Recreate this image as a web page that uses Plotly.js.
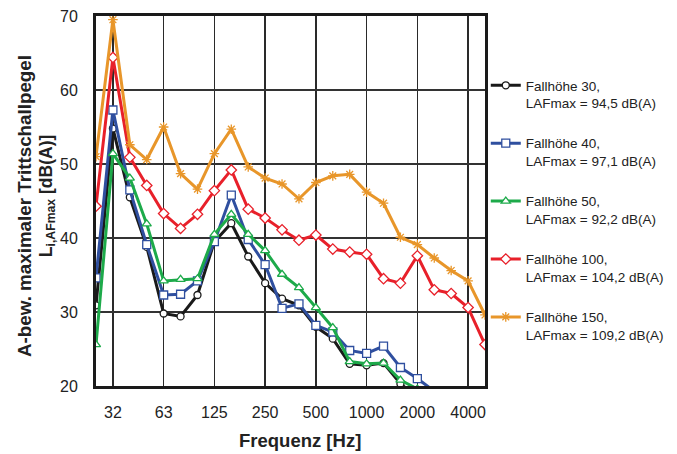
<!DOCTYPE html>
<html>
<head>
<meta charset="utf-8">
<script src="https://cdn.plot.ly/plotly-3.0.1.min.js"></script>
<style>
  html, body { margin: 0; padding: 0; background: #fff; }
  #chart { width: 677px; height: 454px; }
</style>
</head>
<body>
<div id="chart"></div>
<script>
// Third-octave band centre frequencies [Hz]
const bands = ['25','31.5','40','50','63','80','100','125','160','200','250','315',
               '400','500','630','800','1000','1250','1600','2000','2500','3150','4000','5000'];

// Octave tick positions and their labels
const tickBands = ['31.5','63','125','250','500','1000','2000','4000'];
const tickLabels = ['32','63','125','250','500','1000','2000','4000'];

// Maximum A-weighted impact sound level L_i,AFmax [dB(A)] per drop height
const drop30  = [30.9,54.8,45.5,38.8,29.8,29.4,32.3,39.5,42.0,37.5,33.9,31.8,30.9,28.0,26.4,23.0,22.8,23.1,20.3,18.5];
const drop40  = [34.6,57.3,46.5,39.1,32.3,32.4,34.2,39.5,45.8,39.8,36.4,30.5,31.1,28.2,27.3,24.8,24.4,25.4,22.5,21.0,19.3];
const drop50  = [25.6,51.4,48.1,41.9,34.2,34.4,34.5,40.5,43.2,40.5,38.3,35.1,33.3,30.6,27.9,23.3,23.0,23.1,20.8,19.6];
const drop100 = [44.3,64.4,50.9,47.1,43.3,41.3,43.2,46.4,49.2,43.9,42.7,41.1,39.7,40.4,38.5,38.1,37.8,34.5,33.9,37.6,33.0,32.5,30.6,25.6];
const drop150 = [51.0,69.5,52.6,50.6,55.0,48.7,46.6,51.4,54.7,49.6,48.1,47.3,45.3,47.5,48.4,48.6,46.2,44.7,40.1,39.1,37.3,35.6,34.2,29.6];

const seriesNames = [
  'Fallhöhe 30,<br>LAFmax = 94,5 dB(A)',
  'Fallhöhe 40,<br>LAFmax = 97,1 dB(A)',
  'Fallhöhe 50,<br>LAFmax = 92,2 dB(A)',
  'Fallhöhe 100,<br>LAFmax = 104,2 dB(A)',
  'Fallhöhe 150,<br>LAFmax = 109,2 dB(A)'
];

function series(values, name, color, symbol, size, fill, group) {
  return {
    type: 'scatter',
    mode: 'lines+markers',
    x: bands.slice(0, values.length),
    y: values,
    name: name,
    legendgroup: group,
    line: { color: color, width: 3 },
    marker: { symbol: symbol, size: size, color: fill, line: { color: color, width: 1.3 } },
    cliponaxis: true
  };
}

const traces = [
  series(drop30,  seriesNames[0], '#1a1a1a', 'circle',        7, '#ffffff', 'g1'),
  series(drop40,  seriesNames[1], '#2f4f9f', 'square',        8, '#ffffff', 'g2'),
  series(drop50,  seriesNames[2], '#1daa4a', 'triangle-up',   8, '#ffffff', 'g3'),
  series(drop100, seriesNames[3], '#e8202a', 'diamond',       8, '#ffffff', 'g4'),
  series(drop150, seriesNames[4], '#e8962a', 'asterisk-open', 8, '#e8962a', 'g5')
];

const font = { family: 'Arial, "Liberation Sans", sans-serif', color: '#222' };

const layout = {
  width: 677,
  height: 454,
  margin: { l: 96, r: 192, t: 16, b: 68, autoexpand: false },
  paper_bgcolor: '#fff',
  plot_bgcolor: '#fff',
  font: Object.assign({ size: 16 }, font),
  showlegend: true,
  legend: {
    x: 1.002, xanchor: 'left',
    y: 0.854, yanchor: 'top',
    traceorder: 'grouped',
    tracegroupgap: 19.8,
    valign: 'top',
    font: Object.assign({ size: 13.5 }, font),
    itemwidth: 30,
    bgcolor: 'rgba(0,0,0,0)'
  },
  xaxis: {
    type: 'category',
    categoryorder: 'array',
    categoryarray: bands,
    range: [0, bands.length - 1],
    tickmode: 'array',
    tickvals: tickBands,
    ticktext: tickLabels,
    ticks: '',
    ticklabelstandoff: 10,
    tickfont: Object.assign({ size: 16 }, font),
    showgrid: true,
    gridcolor: '#2a2a2a',
    gridwidth: 1.4,
    showline: true,
    linecolor: '#1a1a1a',
    linewidth: 3,
    mirror: true,
    zeroline: false,
    fixedrange: true
  },
  yaxis: {
    range: [20, 70],
    tickvals: [20, 30, 40, 50, 60, 70],
    ticks: '',
    ticklabelstandoff: 12,
    tickfont: Object.assign({ size: 16 }, font),
    showgrid: true,
    gridcolor: '#333',
    gridwidth: 1.4,
    showline: true,
    linecolor: '#1a1a1a',
    linewidth: 3,
    mirror: true,
    zeroline: false,
    fixedrange: true
  },
  annotations: [
    {
      text: '<b>Frequenz [Hz]</b>',
      xref: 'paper', yref: 'paper',
      x: 0.524, y: -0.146,
      xanchor: 'center', yanchor: 'middle',
      showarrow: false,
      font: Object.assign({ size: 18.5 }, font)
    },
    // y-axis title, first line
    {
      text: '<b>A-bew. maximaler Trittschallpegel</b>',
      xref: 'paper', yref: 'paper',
      x: -0.1825, y: 0.4865,
      xanchor: 'center', yanchor: 'middle',
      textangle: -90,
      showarrow: false,
      font: Object.assign({ size: 18.8 }, font)
    },
    // y-axis title, second line (symbol with subscript and unit)
    {
      text: '<b>L<sub>i,AFmax</sub> [dB(A)]</b>',
      xref: 'paper', yref: 'paper',
      x: -0.125, y: 0.514,
      xanchor: 'center', yanchor: 'middle',
      textangle: -90,
      showarrow: false,
      font: Object.assign({ size: 17.5 }, font)
    }
  ]
};

Plotly.newPlot('chart', traces, layout, { staticPlot: true, displayModeBar: false });
</script>
</body>
</html>
